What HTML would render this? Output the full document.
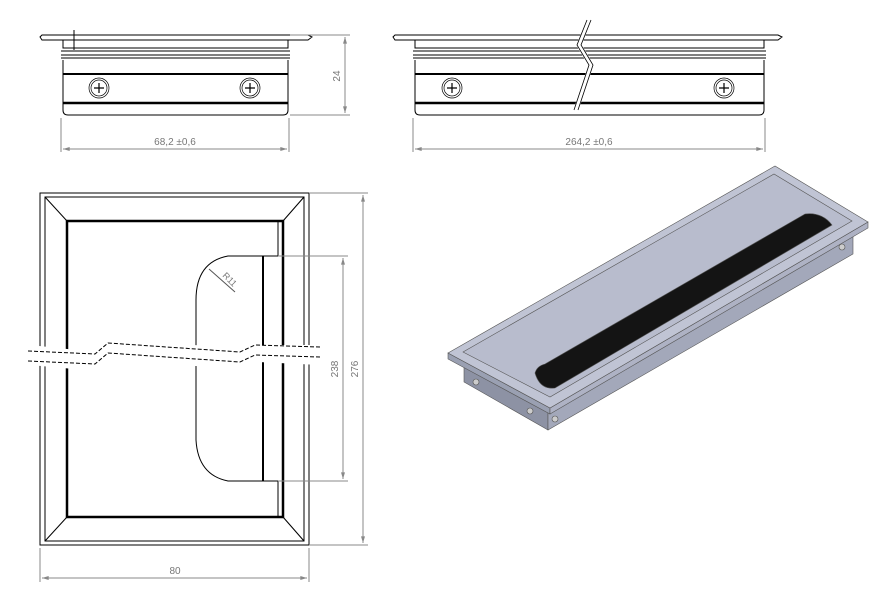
<!DOCTYPE html>
<html><head><style>html,body{margin:0;padding:0;background:#fff}svg{display:block}</style></head>
<body>
<svg width="882" height="599" viewBox="0 0 882 599" xmlns="http://www.w3.org/2000/svg" font-family="Liberation Sans, sans-serif">
<defs>
<marker id="a" viewBox="0 0 10 6" refX="10" refY="3" markerWidth="8" markerHeight="4" orient="auto-start-reverse"><path d="M0,0L10,3L0,6z" fill="#888"/></marker>
</defs>
<g fill="none" stroke="#000" stroke-width="1">
<!-- top left side view -->
<path d="M42,35 L308,35 L312,37 L308,40 L42,40 L40,37 Z"/>
<rect x="63" y="40" width="225" height="8"/>
<line x1="61" y1="51" x2="290" y2="51"/><line x1="61" y1="55" x2="290" y2="55"/><line x1="61" y1="58" x2="290" y2="58"/>
<path d="M63,60 L63,110 Q63,115 68,115 L283,115 Q288,115 288,110 L288,60"/>
<line x1="63" y1="74" x2="288" y2="74" stroke-width="2"/>
<line x1="63" y1="103" x2="288" y2="103" stroke-width="2.5"/>
<circle cx="99" cy="88" r="10" stroke-width="0.7"/><circle cx="99" cy="88" r="8" stroke-width="0.7"/>
<path d="M94,88h10M99,83v10" stroke-width="1.2"/>
<circle cx="250" cy="88" r="10" stroke-width="0.7"/><circle cx="250" cy="88" r="8" stroke-width="0.7"/>
<path d="M245,88h10M250,83v10" stroke-width="1.2"/>
<line x1="74" y1="30" x2="74" y2="50"/><line x1="68" y1="40" x2="80" y2="40"/>
<!-- top right side view -->
<path d="M395,35 L778,35 L782,37 L778,40 L395,40 L393,37 Z"/>
<rect x="415" y="40" width="349" height="8"/>
<line x1="413" y1="51" x2="766" y2="51"/><line x1="413" y1="55" x2="766" y2="55"/><line x1="413" y1="58" x2="766" y2="58"/>
<path d="M415,60 L415,110 Q415,115 420,115 L759,115 Q764,115 764,110 L764,60"/>
<line x1="415" y1="74" x2="764" y2="74" stroke-width="2"/>
<line x1="415" y1="103" x2="764" y2="103" stroke-width="2.5"/>
<circle cx="452" cy="88" r="10" stroke-width="0.7"/><circle cx="452" cy="88" r="8" stroke-width="0.7"/>
<path d="M447,88h10M452,83v10" stroke-width="1.2"/>
<circle cx="724" cy="88" r="10" stroke-width="0.7"/><circle cx="724" cy="88" r="8" stroke-width="0.7"/>
<path d="M719,88h10M724,83v10" stroke-width="1.2"/>
<path d="M589,20 L579,45 L591,65 L576,110" stroke="#fff" stroke-width="5"/>
<path d="M587,20 L577,45 L589,65 L574,110" stroke-width="0.8"/><path d="M591,20 L581,45 L593,65 L578,110" stroke-width="0.8"/>
<!-- plan view -->
<rect x="40" y="193" width="269" height="352"/>
<rect x="45" y="197" width="259" height="344"/>
<rect x="67" y="221" width="216" height="296" stroke-width="2.5"/>
<line x1="45" y1="197" x2="67" y2="221"/><line x1="304" y1="197" x2="283" y2="221"/>
<line x1="45" y1="541" x2="67" y2="517"/><line x1="304" y1="541" x2="283" y2="517"/>
<line x1="278" y1="222" x2="278" y2="256"/><line x1="278" y1="481" x2="278" y2="516"/>
<path d="M278,256 L228,256 Q196,262 196,300 L196,440 Q198,475 228,481 L278,481"/>
<line x1="263" y1="256" x2="263" y2="481" stroke-width="2"/>
<path d="M20,345 L30,345 L95,352 L108,340 L245,348 L258,345 L320,345 L320,365 L258,362 L245,368 L95,362 L85,370 L30,365 L20,365 Z" fill="#fff" stroke="none"/>
<path d="M28,351 L95,354 L108,343 L240,352 L255,345 L320,347" stroke-dasharray="4,2"/>
<path d="M28,361 L95,364 L108,353 L240,362 L255,355 L320,357" stroke-dasharray="4,2"/>
<line x1="209" y1="269" x2="235" y2="292" stroke="#555"/>
</g>
<!-- dimensions -->
<g stroke="#888" stroke-width="1" fill="none">
<line x1="290" y1="35" x2="350" y2="35"/><line x1="290" y1="115" x2="350" y2="115"/>
<line x1="345" y1="37" x2="345" y2="113" marker-start="url(#a)" marker-end="url(#a)"/>
<line x1="61" y1="118" x2="61" y2="152"/><line x1="289" y1="118" x2="289" y2="152"/>
<line x1="63" y1="149" x2="287" y2="149" marker-start="url(#a)" marker-end="url(#a)"/>
<line x1="413" y1="118" x2="413" y2="152"/><line x1="765" y1="118" x2="765" y2="152"/>
<line x1="415" y1="149" x2="763" y2="149" marker-start="url(#a)" marker-end="url(#a)"/>
<line x1="309" y1="193" x2="368" y2="193"/><line x1="309" y1="545" x2="368" y2="545"/>
<line x1="363" y1="195" x2="363" y2="543" marker-start="url(#a)" marker-end="url(#a)"/>
<line x1="278" y1="256" x2="348" y2="256"/><line x1="278" y1="481" x2="348" y2="481"/>
<line x1="343" y1="258" x2="343" y2="479" marker-start="url(#a)" marker-end="url(#a)"/>
<line x1="40" y1="548" x2="40" y2="582"/><line x1="309" y1="548" x2="309" y2="582"/>
<line x1="42" y1="578" x2="307" y2="578" marker-start="url(#a)" marker-end="url(#a)"/>
</g>
<g fill="#777" font-size="10">
<text x="340" y="76" transform="rotate(-90 340 76)" text-anchor="middle">24</text>
<text x="175" y="145" text-anchor="middle">68,2 ±0,6</text>
<text x="589" y="145" text-anchor="middle">264,2 ±0,6</text>
<text x="358" y="369" transform="rotate(-90 358 369)" text-anchor="middle">276</text>
<text x="338" y="369" transform="rotate(-90 338 369)" text-anchor="middle">238</text>
<text x="175" y="574" text-anchor="middle">80</text>
<text x="222" y="276" transform="rotate(45 222 276)" font-size="9">R11</text>
</g>
<!-- isometric -->
<g stroke="#555" stroke-width="0.6">
<polygon points="464,364 548,412 548,430 464,382" fill="#8d92a4"/>
<polygon points="548,412 853,234 853,254 548,430" fill="#a3a8ba"/>
<polygon points="448,353 550,408 550,414 448,359" fill="#9aa0b2"/>
<polygon points="550,408 868,222 868,228 550,414" fill="#aeb2c4"/>
<polygon points="448,353 775,166 868,222 550,408" fill="#c0c4d4"/>
<polygon points="463,352 774,174 852,221 550,397" fill="#b8bccd"/>
<path d="M535,373 Q537,366 545,364 L805,214 Q822,212 832,225 L555,388 Q540,390 535,373 Z" fill="#141414"/>
<circle cx="476" cy="382" r="3" fill="#ccc"/><circle cx="530" cy="411" r="3" fill="#ccc"/>
<circle cx="555" cy="419" r="3" fill="#ccc"/><circle cx="842" cy="247" r="3" fill="#ccc"/>
</g>
</svg>
</body></html>
